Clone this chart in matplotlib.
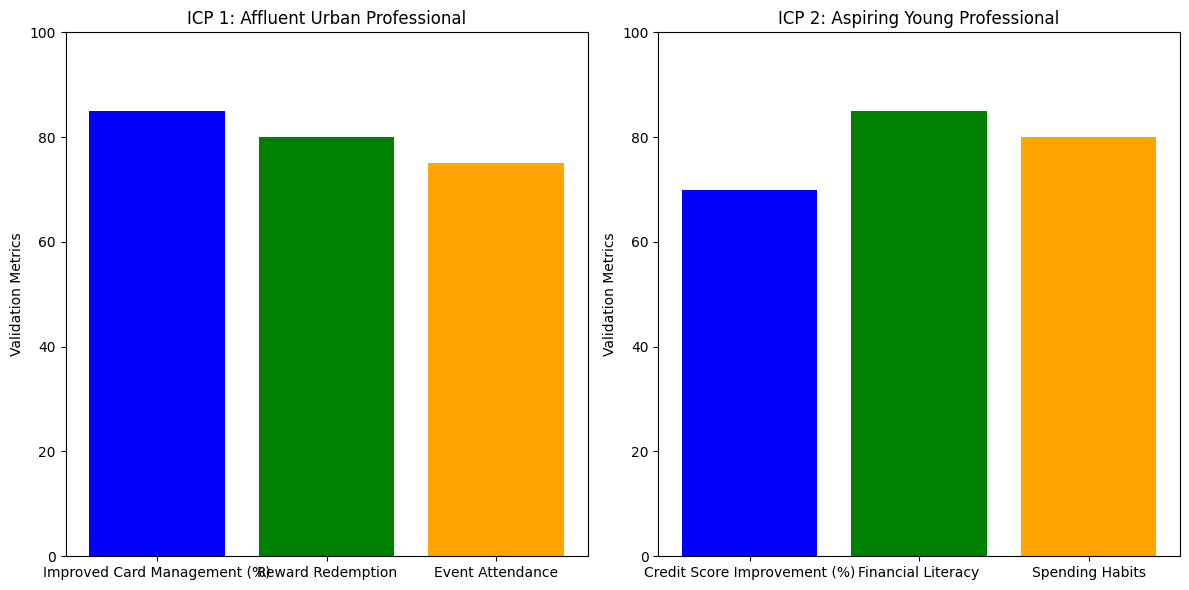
import matplotlib
matplotlib.use("Agg")
import matplotlib.pyplot as plt

# Data
icp1_metrics = ['Improved Card Management (%)', 'Reward Redemption', 'Event Attendance']
icp1_values = [85, 80, 75]
icp2_metrics = ['Credit Score Improvement (%)', 'Financial Literacy', 'Spending Habits']
icp2_values = [70, 85, 80]
bar_colors = ['blue', 'green', 'orange']

fig, axes = plt.subplots(1, 2, figsize=(12, 6), dpi=100)

# ICP 1
axes[0].bar(icp1_metrics, icp1_values, color=bar_colors)
axes[0].set_title('ICP 1: Affluent Urban Professional')
axes[0].set_ylabel('Validation Metrics')
axes[0].set_ylim(0, 100)

# ICP 2
axes[1].bar(icp2_metrics, icp2_values, color=bar_colors)
axes[1].set_title('ICP 2: Aspiring Young Professional')
axes[1].set_ylabel('Validation Metrics')
axes[1].set_ylim(0, 100)

plt.tight_layout()
plt.savefig('out.png', bbox_inches='tight')
